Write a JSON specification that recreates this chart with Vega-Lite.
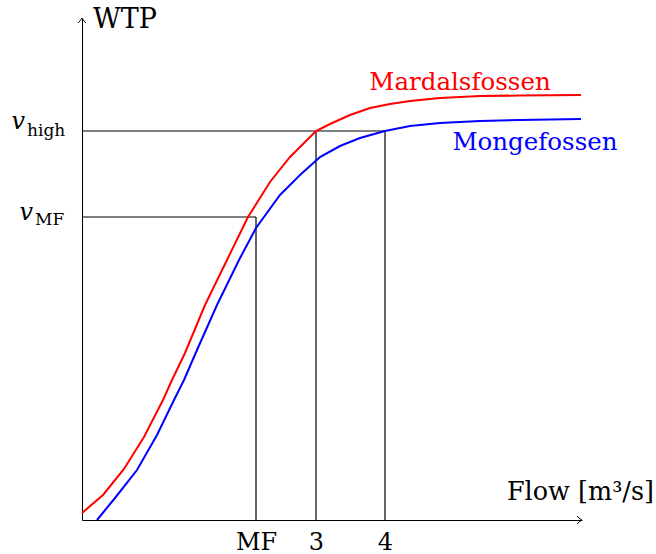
{
  "$schema": "https://vega.github.io/schema/vega-lite/v6.json",
  "width": 500,
  "height": 502,
  "autosize": {"type": "none"},
  "padding": {"left": 82, "top": 18, "right": 74, "bottom": 34},
  "background": "white",
  "config": {"view": {"stroke": null}},
  "datasets": {
    "curves": [
      {"series": "Mardalsfossen", "i": 0, "x": 0, "y": 7},
      {"series": "Mardalsfossen", "i": 1, "x": 21, "y": 25},
      {"series": "Mardalsfossen", "i": 2, "x": 42, "y": 51},
      {"series": "Mardalsfossen", "i": 3, "x": 62, "y": 83},
      {"series": "Mardalsfossen", "i": 4, "x": 81, "y": 120},
      {"series": "Mardalsfossen", "i": 5, "x": 90, "y": 140},
      {"series": "Mardalsfossen", "i": 6, "x": 103, "y": 167},
      {"series": "Mardalsfossen", "i": 7, "x": 123, "y": 215},
      {"series": "Mardalsfossen", "i": 8, "x": 145, "y": 260},
      {"series": "Mardalsfossen", "i": 9, "x": 166, "y": 303},
      {"series": "Mardalsfossen", "i": 10, "x": 188, "y": 338},
      {"series": "Mardalsfossen", "i": 11, "x": 208, "y": 363},
      {"series": "Mardalsfossen", "i": 12, "x": 234, "y": 389},
      {"series": "Mardalsfossen", "i": 13, "x": 248, "y": 396},
      {"series": "Mardalsfossen", "i": 14, "x": 268, "y": 405},
      {"series": "Mardalsfossen", "i": 15, "x": 288, "y": 412},
      {"series": "Mardalsfossen", "i": 16, "x": 308, "y": 416},
      {"series": "Mardalsfossen", "i": 17, "x": 328, "y": 419},
      {"series": "Mardalsfossen", "i": 18, "x": 358, "y": 422},
      {"series": "Mardalsfossen", "i": 19, "x": 398, "y": 424},
      {"series": "Mardalsfossen", "i": 20, "x": 438, "y": 424.5},
      {"series": "Mardalsfossen", "i": 21, "x": 499, "y": 425},
      {"series": "Mongefossen", "i": 0, "x": 15, "y": 0},
      {"series": "Mongefossen", "i": 1, "x": 33, "y": 22},
      {"series": "Mongefossen", "i": 2, "x": 55, "y": 50},
      {"series": "Mongefossen", "i": 3, "x": 75, "y": 85},
      {"series": "Mongefossen", "i": 4, "x": 92, "y": 120},
      {"series": "Mongefossen", "i": 5, "x": 102, "y": 140},
      {"series": "Mongefossen", "i": 6, "x": 115, "y": 170},
      {"series": "Mongefossen", "i": 7, "x": 135, "y": 215},
      {"series": "Mongefossen", "i": 8, "x": 157, "y": 260},
      {"series": "Mongefossen", "i": 9, "x": 174, "y": 292},
      {"series": "Mongefossen", "i": 10, "x": 198, "y": 325},
      {"series": "Mongefossen", "i": 11, "x": 218, "y": 345},
      {"series": "Mongefossen", "i": 12, "x": 238, "y": 363},
      {"series": "Mongefossen", "i": 13, "x": 258, "y": 374},
      {"series": "Mongefossen", "i": 14, "x": 278, "y": 382},
      {"series": "Mongefossen", "i": 15, "x": 303, "y": 389},
      {"series": "Mongefossen", "i": 16, "x": 328, "y": 394},
      {"series": "Mongefossen", "i": 17, "x": 358, "y": 397},
      {"series": "Mongefossen", "i": 18, "x": 398, "y": 399},
      {"series": "Mongefossen", "i": 19, "x": 438, "y": 400},
      {"series": "Mongefossen", "i": 20, "x": 499, "y": 401}
    ],
    "guides": [
      {"x": 0, "y": 389, "x2": 303, "y2": 389},
      {"x": 0, "y": 303, "x2": 174, "y2": 303},
      {"x": 174, "y": 0, "x2": 174, "y2": 303},
      {"x": 234, "y": 0, "x2": 234, "y2": 389},
      {"x": 303, "y": 0, "x2": 303, "y2": 389}
    ],
    "curveLabels": [
      {"series": "Mardalsfossen", "x": 378, "y": 430},
      {"series": "Mongefossen", "x": 453, "y": 370}
    ]
  },
  "layer": [
    {
      "data": {"name": "guides"},
      "mark": {"type": "rule", "color": "black", "strokeWidth": 1.2},
      "encoding": {
        "x": {"field": "x", "type": "quantitative"},
        "y": {"field": "y", "type": "quantitative"},
        "x2": {"field": "x2"},
        "y2": {"field": "y2"}
      }
    },
    {
      "data": {"name": "curves"},
      "mark": {"type": "line", "strokeWidth": 2},
      "encoding": {
        "x": {
          "field": "x", "type": "quantitative",
          "scale": {"domain": [0, 500], "nice": false, "zero": false},
          "axis": {
            "title": null, "grid": false, "ticks": false, "tickSize": 0,
            "values": [174, 234, 303],
            "labelExpr": "datum.value == 174 ? 'MF' : datum.value == 234 ? '3' : '4'",
            "labelFont": "DejaVu Serif", "labelFontSize": 24, "labelColor": "black",
            "labelBaseline": "alphabetic", "labelPadding": 29,
            "domainColor": "black", "domainWidth": 1
          }
        },
        "y": {
          "field": "y", "type": "quantitative",
          "scale": {"domain": [0, 502], "nice": false, "zero": false},
          "axis": {
            "title": null, "grid": false, "ticks": false, "labels": false,
            "domainColor": "black", "domainWidth": 1
          }
        },
        "color": {
          "field": "series", "type": "nominal",
          "scale": {"domain": ["Mardalsfossen", "Mongefossen"], "range": ["#ff0000", "#0000ff"]},
          "legend": null
        },
        "order": {"field": "i", "type": "quantitative"}
      }
    },
    {
      "data": {"name": "curveLabels"},
      "mark": {"type": "text", "font": "DejaVu Serif", "fontSize": 24.5, "align": "center", "baseline": "alphabetic"},
      "encoding": {
        "x": {"field": "x", "type": "quantitative"},
        "y": {"field": "y", "type": "quantitative"},
        "text": {"field": "series"},
        "color": {"field": "series", "type": "nominal", "legend": null}
      }
    },
    {
      "data": {"values": [{"label": "WTP", "x": 0, "y": 502}]},
      "mark": {"type": "text", "font": "DejaVu Serif", "fontSize": 27, "align": "left", "baseline": "alphabetic", "dx": 11, "dy": 10, "color": "black"},
      "encoding": {
        "x": {"field": "x", "type": "quantitative"},
        "y": {"field": "y", "type": "quantitative"},
        "text": {"field": "label"}
      }
    },
    {
      "data": {"values": [{"label": "Flow [m³/s]", "x": 500, "y": 0}]},
      "mark": {"type": "text", "font": "DejaVu Serif", "fontSize": 25.5, "align": "right", "baseline": "alphabetic", "dx": 72, "dy": -20, "color": "black"},
      "encoding": {
        "x": {"field": "x", "type": "quantitative"},
        "y": {"field": "y", "type": "quantitative"},
        "text": {"field": "label"}
      }
    },
    {
      "data": {"values": [{"x": 500, "y": 0}]},
      "mark": {"type": "point", "shape": "M-1.4,-1.1Q-0.5,-0.2,0,0Q-0.5,0.2,-1.4,1.1", "filled": false, "color": "black", "opacity": 1, "strokeWidth": 1, "size": 49},
      "encoding": {
        "x": {"field": "x", "type": "quantitative"},
        "y": {"field": "y", "type": "quantitative"}
      }
    },
    {
      "data": {"values": [{"x": 0, "y": 502}]},
      "mark": {"type": "point", "shape": "M-1.4,-1.1Q-0.5,-0.2,0,0Q-0.5,0.2,-1.4,1.1", "angle": 270, "filled": false, "color": "black", "opacity": 1, "strokeWidth": 1, "size": 49},
      "encoding": {
        "x": {"field": "x", "type": "quantitative"},
        "y": {"field": "y", "type": "quantitative"}
      }
    },
    {
      "data": {"values": [{"label": "v", "x": 0, "y": 389}]},
      "mark": {"type": "text", "font": "DejaVu Serif", "fontStyle": "italic", "fontSize": 24, "align": "right", "baseline": "alphabetic", "dx": -57, "dy": -2, "color": "black"},
      "encoding": {
        "x": {"field": "x", "type": "quantitative"},
        "y": {"field": "y", "type": "quantitative"},
        "text": {"field": "label"}
      }
    },
    {
      "data": {"values": [{"label": "high", "x": 0, "y": 389}]},
      "mark": {"type": "text", "font": "DejaVu Serif", "fontSize": 17, "align": "left", "baseline": "alphabetic", "dx": -55, "dy": 5, "color": "black"},
      "encoding": {
        "x": {"field": "x", "type": "quantitative"},
        "y": {"field": "y", "type": "quantitative"},
        "text": {"field": "label"}
      }
    },
    {
      "data": {"values": [{"label": "v", "x": 0, "y": 303}]},
      "mark": {"type": "text", "font": "DejaVu Serif", "fontStyle": "italic", "fontSize": 24, "align": "right", "baseline": "alphabetic", "dx": -49, "dy": 3, "color": "black"},
      "encoding": {
        "x": {"field": "x", "type": "quantitative"},
        "y": {"field": "y", "type": "quantitative"},
        "text": {"field": "label"}
      }
    },
    {
      "data": {"values": [{"label": "MF", "x": 0, "y": 303}]},
      "mark": {"type": "text", "font": "DejaVu Serif", "fontSize": 17, "align": "left", "baseline": "alphabetic", "dx": -47, "dy": 8, "color": "black"},
      "encoding": {
        "x": {"field": "x", "type": "quantitative"},
        "y": {"field": "y", "type": "quantitative"},
        "text": {"field": "label"}
      }
    }
  ]
}
